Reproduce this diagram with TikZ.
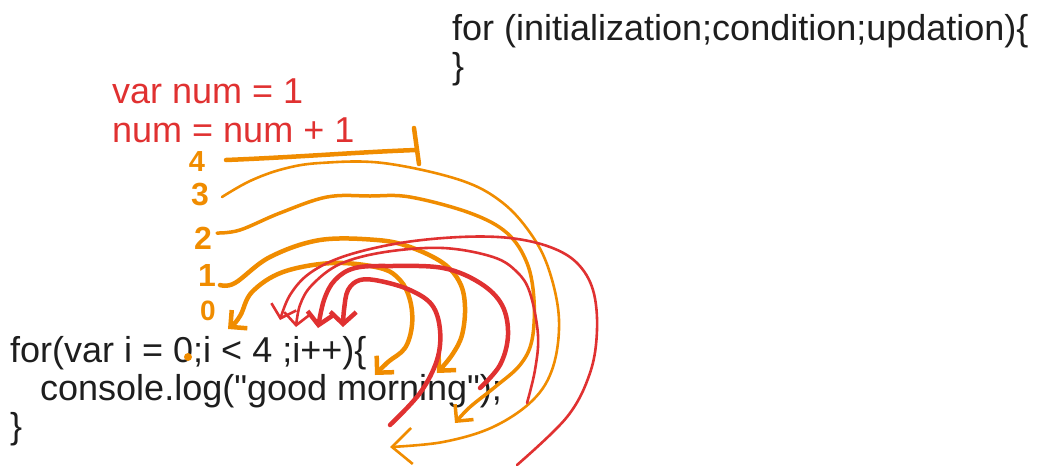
\documentclass[tikz,border=0pt]{standalone}
\usepackage{fontspec}
\setmainfont{Liberation Sans}[Ligatures=TeXOff]
\usetikzlibrary{arrows.meta}
\definecolor{penorange}{RGB}{240,140,0}
\definecolor{penred}{RGB}{224,49,49}
\definecolor{ink}{RGB}{30,30,30}

\begin{document}
\begin{tikzpicture}[x=1pt,y=-1pt]
   \tikzstyle{every node}=[inner sep=0pt,font=\fontsize{36}{38}\selectfont]
   \tikzstyle{code}=[anchor=base west,text=ink]
   \tikzstyle{digit}=[text=penorange,font=\fontsize{32}{32}\selectfont\bfseries]
   \tikzstyle{ofat}=[draw=penorange,line width=4.5pt,line cap=round,line join=round]
   \tikzstyle{omid}=[draw=penorange,line width=3.5pt,line cap=round,line join=round]
   \tikzstyle{othin}=[draw=penorange,line width=2.6pt,line cap=round,line join=round]
   \tikzstyle{rfat}=[draw=penred,line width=4.5pt,line cap=round,line join=round]
   \tikzstyle{rthin}=[draw=penred,line width=2.6pt,line cap=round,line join=round]
   \tikzstyle{barb}=[-{Straight Barb[length=12pt,width=24pt]}]
   \tikzstyle{rbarb}=[-{Straight Barb[length=12pt,width=26pt]}]

   \useasboundingbox (0,0) rectangle (1038,475);

   % code text
   \node (hdr) [code] at (452,40) {for (initialization;condition;updation)\{};
   \node (hdrend) [code] at (452,78) {\}};
   \node (var) [code,text=penred] at (112,103) {var num = 1};
   \node (inc) [code,text=penred] at (112,142) {num = num + 1};
   \node (loop) [code] at (10,362) {for(var i = 0;i < 4 ;i++)\{};
   \node (body) [code] at (40,400) {console.log("good morning");};
   \node (loopend) [code] at (10,438) {\}};

   % counter values
   \node (d4) [digit,font=\fontsize{29}{29}\selectfont\bfseries] at (197,162) {4};
   \node (d3) [digit] at (200,194) {3};
   \node (d2) [digit] at (203,238) {2};
   \node (d1) [digit] at (207,275) {1};
   \node (d0) [digit,font=\fontsize{28}{28}\selectfont\bfseries] at (208,311) {0};
   \fill [penorange] (188,357) circle (4);

   % orange passes
   \draw [ofat] (226,160) .. controls (300,157) and (360,152) .. (416,150);
   \draw [ofat] (414,128) -- (419,164);
   \draw [othin,-{Straight Barb[length=20pt,width=36pt]}] plot [smooth,tension=0.6] coordinates
      {(222,197) (250,181) (283,169) (320,163) (383,163) (460,180) (503,203) (533,237)
       (550,273) (559,320) (553,367) (533,400) (493,427) (443,442) (390,447)};
   \draw [omid,barb] plot [smooth,tension=0.6] coordinates
      {(217,233) (240,230) (280,213) (327,197) (370,196) (410,197) (470,213) (507,233)
       (527,263) (534,300) (532,340) (520,365) (495,387) (470,407) (455,423)};
   \draw [ofat,barb] plot [smooth,tension=0.6] coordinates
      {(220,285) (235,283) (270,257) (320,240) (377,240) (410,247) (443,263) (460,283)
       (465,307) (462,335) (452,355) (437,373)};
   \draw [ofat,{Straight Barb[length=12pt,width=24pt]}-{Straight Barb[length=12pt,width=24pt]}]
      plot [smooth,tension=0.6] coordinates
      {(228,329) (240,316) (252,292) (283,272) (333,263) (380,268) (400,280) (410,300)
       (412,325) (405,348) (388,362) (375,375)};

   % red passes
   \draw [rfat,rbarb] plot [smooth,tension=0.6] coordinates
      {(390,425) (420,393) (437,360) (440,330) (432,305) (410,290) (380,281) (360,280)
       (348,290) (344,310) (343,327)};
   \draw [rfat,rbarb] plot [smooth,tension=0.6] coordinates
      {(480,388) (500,365) (508,335) (502,305) (480,283) (443,268) (390,266) (355,268)
       (335,280) (324,300) (318,328)};
   \draw [rthin,rbarb] plot [smooth,tension=0.6] coordinates
      {(527,403) (535,370) (538,335) (530,293) (517,272) (493,257) (443,248) (385,252)
       (340,264) (312,285) (300,305) (296,327)};
   \draw [rthin,rbarb] plot [smooth,tension=0.6] coordinates
      {(517,465) (567,417) (590,373) (597,330) (593,290) (577,263) (550,247) (510,238)
       (460,237) (400,243) (345,256) (310,273) (290,295) (280,320)};

\end{tikzpicture}
\end{document}
